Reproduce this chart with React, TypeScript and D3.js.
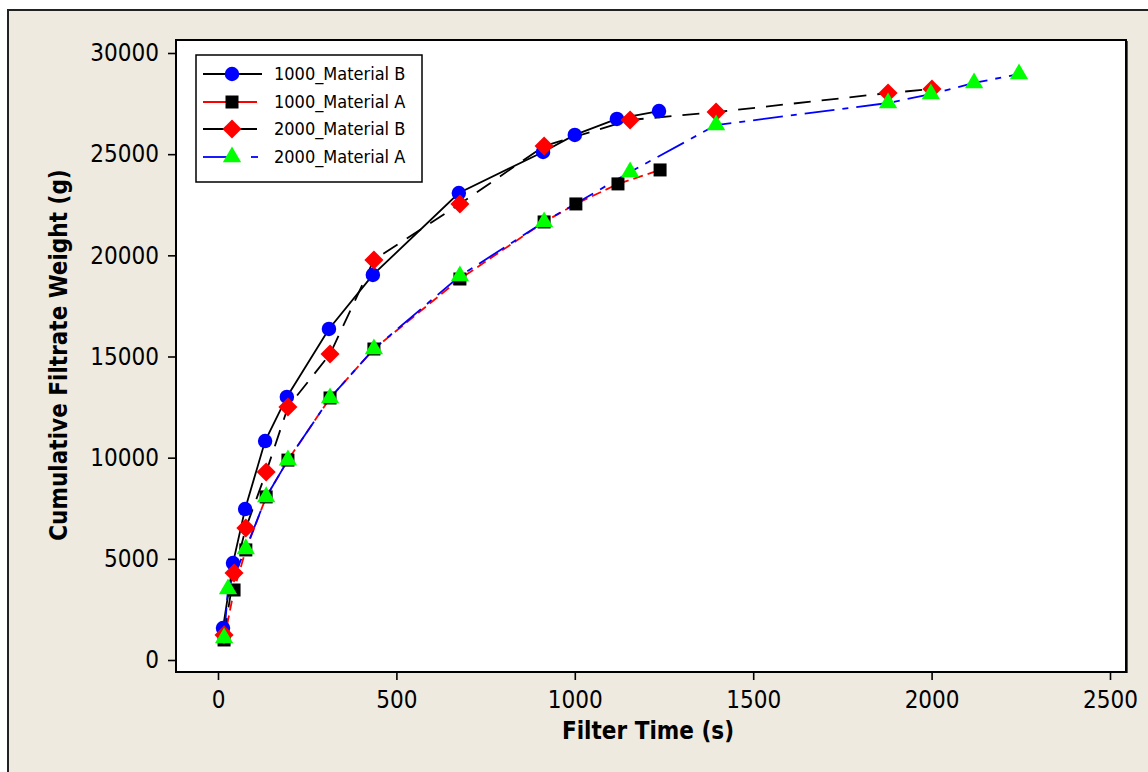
import { useEffect, useRef } from 'react'
import * as d3 from 'd3'

// filter time (s) and cumulative filtrate weight (g)
const timeB1000 = [14, 42, 76, 132, 193, 311, 434, 675, 911, 1000, 1118, 1236]
const weightB1000 = [1580, 4790, 7460, 10820, 13000, 16360, 19030, 23080, 25110, 25950, 26740, 27130]

const timeA1000 = [17, 45, 78, 135, 196, 314, 437, 678, 914, 1003, 1121, 1239]
const weightA1000 = [990, 3460, 5440, 8060, 9880, 12950, 15370, 18830, 21650, 22540, 23530, 24220]

const timeB2000 = [17, 45, 78, 135, 196, 314, 437, 678, 914, 1155, 1396, 1878, 2001]
const weightB2000 = [1240, 4300, 6520, 9290, 12500, 15120, 19770, 22540, 25400, 26690, 27080, 28020, 28220]

const timeA2000 = [17, 28, 78, 135, 196, 314, 437, 678, 914, 1155, 1396, 1878, 1998, 2119, 2245]
const weightA2000 = [1090, 3510, 5490, 8060, 9880, 12950, 15370, 18980, 21650, 24120, 26440, 27530, 27970, 28520, 28960]

const seriesNames = ['1000_Material B', '1000_Material A', '2000_Material B', '2000_Material A']
const xTicks = [0, 500, 1000, 1500, 2000, 2500]
const yTicks = [0, 5000, 10000, 15000, 20000, 25000, 30000]

const FONT = "'DejaVu Sans Condensed', 'DejaVu Sans', sans-serif"

export default function App() {
  const xAxisRef = useRef<SVGGElement>(null)
  const yAxisRef = useRef<SVGGElement>(null)

  const W = 1148
  const H = 772
  const plot = { left: 176, top: 40, right: 1126, bottom: 672 }

  const x = d3.scaleLinear().domain([0, 2500]).range([218, 1110])
  const y = d3.scaleLinear().domain([0, 30000]).range([660, 53])

  const series = [
    { name: seriesNames[0], t: timeB1000, v: weightB1000, line: '#000', dash: 'none', shape: 'circle', fill: '#0000ff' },
    { name: seriesNames[1], t: timeA1000, v: weightA1000, line: '#ff0000', dash: '10,5', shape: 'square', fill: '#000' },
    { name: seriesNames[2], t: timeB2000, v: weightB2000, line: '#000', dash: '17,11', shape: 'diamond', fill: '#ff0000' },
    { name: seriesNames[3], t: timeA2000, v: weightA2000, line: '#0000ff', dash: '30,8,6,8', shape: 'triangle', fill: '#00ff00' },
  ]

  const line = d3.line<[number, number]>().x(d => x(d[0])).y(d => y(d[1]))

  const symbolPath = (shape: string) => {
    if (shape === 'circle') return d3.symbol().type(d3.symbolCircle).size(165)()
    if (shape === 'square') return d3.symbol().type(d3.symbolSquare).size(169)()
    if (shape === 'diamond') return d3.symbol().type(d3.symbolSquare).size(182)()
    return d3.symbol().type(d3.symbolTriangle).size(145)()
  }

  useEffect(() => {
    const xa = d3.select(xAxisRef.current!)
    xa.call(d3.axisBottom(x).tickValues(xTicks).tickSize(8).tickPadding(11).tickFormat(d3.format('d')))
    const ya = d3.select(yAxisRef.current!)
    ya.call(d3.axisLeft(y).tickValues(yTicks).tickSize(8).tickPadding(9).tickFormat(d3.format('d')))
    for (const g of [xa, ya]) {
      g.select('.domain').remove()
      g.selectAll('line').attr('stroke', '#000').attr('stroke-width', 1.6)
      g.selectAll('text')
        .attr('fill', '#000')
        .style('font-family', FONT)
        .style('font-stretch', 'condensed')
        .style('font-size', '24px')
    }
  }, [])

  const legendRows = [74, 102, 129, 157]

  return (
    <svg width={W} height={H} style={{ position: 'absolute', left: 0, top: 0 }}>
      <rect x={8} y={10} width={W + 20} height={H + 20} fill="#eeeae0" stroke="#222" strokeWidth={2} />
      <rect x={plot.left} y={plot.top} width={plot.right - plot.left} height={plot.bottom - plot.top}
        fill="#fff" stroke="#000" strokeWidth={2} />
      <line x1={plot.right + 1.5} x2={plot.right + 1.5} y1={plot.top + 1} y2={plot.bottom + 1} stroke="#555" strokeWidth={1} />

      <g ref={xAxisRef} transform={`translate(0,${plot.bottom})`} />
      <g ref={yAxisRef} transform={`translate(${plot.left},0)`} />

      {series.map(s => (
        <path key={s.name + '-line'} d={line(s.t.map((t, i) => [t, s.v[i]] as [number, number])) || ''}
          fill="none" stroke={s.line} strokeWidth={1.8} strokeDasharray={s.dash} />
      ))}
      {series.map(s => (
        <g key={s.name + '-pts'}>
          {s.t.map((t, i) => (
            <path key={i} d={symbolPath(s.shape) || ''} fill={s.fill}
              transform={`translate(${x(t)},${y(s.v[i])})${s.shape === 'diamond' ? ' rotate(45)' : ''}`} />
          ))}
        </g>
      ))}

      <g>
        <rect x={196} y={55} width={226} height={127} fill="#fff" stroke="#000" strokeWidth={1.5} />
        {series.map((s, i) => (
          <g key={s.name + '-leg'} transform={`translate(0,${legendRows[i]})`}>
            {s.shape === 'triangle' ? (
              <>
                <line x1={203} x2={232} y1={0} y2={0} stroke={s.line} strokeWidth={1.8} />
                <line x1={251} x2={258} y1={0} y2={0} stroke={s.line} strokeWidth={1.8} />
              </>
            ) : (
              <line x1={203} x2={s.shape === 'circle' ? 262 : 257} y1={0} y2={0} stroke={s.line} strokeWidth={1.8} />
            )}
            <path d={symbolPath(s.shape) || ''} fill={s.fill}
              transform={`translate(232,0)${s.shape === 'diamond' ? ' rotate(45)' : ''}`} />
            <text x={274} y={0} dy="0.36em" fontFamily={FONT} fontSize={18} style={{ fontStretch: 'condensed' }}>{s.name}</text>
          </g>
        ))}
      </g>

      <text x={648} y={739} textAnchor="middle" fontFamily={FONT} fontWeight="bold" fontSize={24}
        style={{ fontStretch: 'condensed' }}>Filter Time (s)</text>
      <text transform="translate(67,355) rotate(-90)" textAnchor="middle" fontFamily={FONT} fontWeight="bold"
        fontSize={24} style={{ fontStretch: 'condensed' }}>Cumulative Filtrate Weight (g)</text>
    </svg>
  )
}
